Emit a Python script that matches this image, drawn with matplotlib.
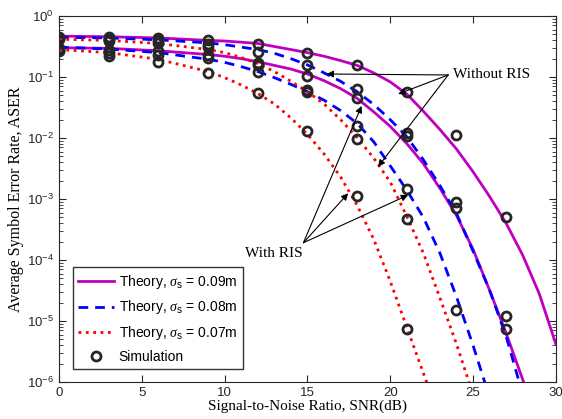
import numpy as np
import matplotlib
matplotlib.use("Agg")
import matplotlib.pyplot as plt
from matplotlib.ticker import NullFormatter, FixedLocator, LogFormatterSciNotation

plt.rcParams['font.family'] = ['Liberation Sans', 'DejaVu Sans']
plt.rcParams['mathtext.fontset'] = 'custom'
plt.rcParams['mathtext.rm'] = 'Liberation Sans'
plt.rcParams['mathtext.sf'] = 'Liberation Sans'
plt.rcParams['mathtext.it'] = 'Liberation Serif:italic'

# theory curves (ASER vs SNR in dB)
snr_theory = [0, 3, 6, 9, 10, 11, 12, 13, 14, 15, 16, 17, 18, 19, 20,
              21, 22, 23, 24, 25, 26, 27, 28, 29, 30]
nan = np.nan
# sigma_s = 0.09 m
aser_09_without = [0.468, 0.457, 0.437, 0.398, 0.389, 0.372, 0.355, 0.316, 0.282, 0.251,
                   0.219, 0.186, 0.155, 0.117, 0.0832, 0.0525, 0.0275, 0.0138, 6.6e-3,
                   2.8e-3, 1.1e-3, 4.0e-4, 1.2e-4, 2.8e-5, 4.2e-6]
aser_09_with = [0.302, 0.295, 0.269, 0.234, 0.219, 0.200, 0.178, 0.155, 0.135, 0.112,
                0.0871, 0.0646, 0.0447, 0.0269, 0.0155, 8.1e-3, 3.8e-3, 1.5e-3, 5.4e-4,
                1.5e-4, 3.2e-5, 6.3e-6, 1.1e-6, 1.6e-7, nan]
# sigma_s = 0.08 m
aser_08_without = [0.447, 0.437, 0.407, 0.363, 0.339, 0.309, 0.282, 0.245, 0.200, 0.158,
                   0.117, 0.0851, 0.0575, 0.0355, 0.0200, 0.0105, 4.4e-3, 1.66e-3, 5.8e-4,
                   1.4e-4, 3.2e-5, 5.6e-6, 6.3e-7, nan, nan]
aser_08_with = [0.309, 0.288, 0.251, 0.195, 0.174, 0.148, 0.123, 0.0977, 0.0759, 0.0575,
                0.0417, 0.0282, 0.0174, 8.7e-3, 3.5e-3, 1.4e-3, 5.0e-4, 1.3e-4, 2.5e-5,
                4.0e-6, 5.6e-7, nan, nan, nan, nan]
# sigma_s = 0.07 m
aser_07_without = [0.417, 0.398, 0.355, 0.282, 0.251, 0.209, 0.166, 0.123, 0.0851, 0.0575,
                   0.0363, 0.0200, 0.0102, 4.7e-3, 1.9e-3, 5.2e-4, 1.3e-4, 2.4e-5, 4.2e-6,
                   6.3e-7, nan, nan, nan, nan, nan]
aser_07_with = [0.282, 0.251, 0.195, 0.123, 0.0977, 0.0741, 0.0537, 0.0363, 0.0214, 0.0115,
                5.5e-3, 2.3e-3, 7.9e-4, 2.2e-4, 4.5e-5, 7.9e-6, 1.4e-6, 2.5e-7, nan,
                nan, nan, nan, nan, nan, nan]

# simulation points
snr_sim = [0, 3, 6, 9, 12, 15, 18, 21, 24, 27]
sim_09_without = [0.457, 0.457, 0.437, 0.398, 0.347, 0.251, 0.155, 0.0575, 0.011, 5.1e-4]
sim_09_with = [0.295, 0.275, 0.263, 0.229, 0.170, 0.105, 0.0447, 0.0107, 7.1e-4, 1.23e-5]
sim_08_without = [0.437, 0.427, 0.407, 0.347, 0.260, 0.158, 0.063, 0.0123, 9.1e-4, 7.4e-6]
sim_08_with = [0.275, 0.251, 0.229, 0.204, 0.123, 0.0617, 0.0155, 1.45e-3, 1.5e-5, nan]
sim_07_without = [0.417, 0.389, 0.355, 0.316, 0.158, 0.0562, 9.5e-3, 4.7e-4, nan, nan]
sim_07_with = [0.263, 0.219, 0.174, 0.115, 0.0537, 0.0129, 1.1e-3, 7.4e-6, nan, nan]

magenta = '#bf00bf'
blue = '#0000ff'
red = '#ff0000'

fig = plt.figure(figsize=(5.62, 4.19), dpi=100)
ax = fig.add_axes([0.105, 0.0883, 0.884, 0.8735])

ax.plot(snr_theory, aser_09_without, '-', color=magenta, lw=2, label=r'Theory, $\sigma_{\mathrm{s}}$ = 0.09m')
ax.plot(snr_theory, aser_09_with, '-', color=magenta, lw=2)
ax.plot(snr_theory, aser_08_without, '--', color=blue, lw=2, dashes=(3.5, 2.5), label=r'Theory, $\sigma_{\mathrm{s}}$ = 0.08m')
ax.plot(snr_theory, aser_08_with, '--', color=blue, lw=2, dashes=(3.5, 2.5))
ax.plot(snr_theory, aser_07_without, ':', color=red, lw=2, label=r'Theory, $\sigma_{\mathrm{s}}$ = 0.07m')
ax.plot(snr_theory, aser_07_with, ':', color=red, lw=2)

sim_all = [sim_09_without, sim_09_with, sim_08_without, sim_08_with, sim_07_without, sim_07_with]
for i, s in enumerate(sim_all):
    ax.plot(snr_sim, s, 'o', ls='none', mfc='none', mec='#262626', mew=2, ms=6.5,
            label='Simulation' if i == 0 else None)

ax.set_yscale('log')
ax.set_xlim(0, 30)
ax.set_ylim(1e-6, 1)
ax.xaxis.set_major_locator(FixedLocator([0, 5, 10, 15, 20, 25, 30]))
# ticks only inside the visible decades
ax.yaxis.set_major_locator(FixedLocator([10.0 ** e for e in range(-6, 1)]))
ax.yaxis.set_major_formatter(LogFormatterSciNotation())
ax.yaxis.set_minor_locator(FixedLocator([m * 10.0 ** e for e in range(-6, 0) for m in range(2, 10)]))
ax.yaxis.set_minor_formatter(NullFormatter())
ax.tick_params(which='both', direction='in', top=True, right=True, labelsize=9.5,
               colors='#262626')
ax.tick_params(which='major', length=5, width=0.8)
ax.tick_params(which='minor', length=3, width=0.6)
for sp in ax.spines.values():
    sp.set_color('#262626')
    sp.set_linewidth(0.8)

ax.set_xlabel('Signal-to-Noise Ratio, SNR(dB)', family='Liberation Serif', fontsize=11, labelpad=0.5)
ax.set_ylabel('Average Symbol Error Rate, ASER', family='Liberation Serif', fontsize=11.5, labelpad=2)

# annotations
arr = dict(arrowstyle='-|>', color='k', lw=0.8, mutation_scale=10, shrinkA=0, shrinkB=0)
ax.text(23.8, 0.108, 'Without RIS', family='Liberation Serif', fontsize=11, ha='left', va='center')
for head in [(16.16, 0.112), (20.48, 0.0526), (19.27, 3.39e-3)]:
    ax.annotate('', xy=head, xytext=(23.5, 0.108), arrowprops=arr)
ax.text(14.7, 1.3e-4, 'With RIS', family='Liberation Serif', fontsize=11, ha='right', va='center')
for head in [(18.27, 0.0335), (17.46, 1.24e-3), (21.08, 1.16e-3)]:
    ax.annotate('', xy=head, xytext=(14.76, 1.92e-4), arrowprops=arr)

leg = ax.legend(loc='lower left', bbox_to_anchor=(0.0276, 0.0347), borderaxespad=0,
                fontsize=10, frameon=True, fancybox=False, edgecolor='k',
                handlelength=2.6, labelspacing=0.55, borderpad=0.4, handletextpad=0.3)
leg.get_frame().set_linewidth(1.0)

fig.savefig('out.png', dpi=100)
